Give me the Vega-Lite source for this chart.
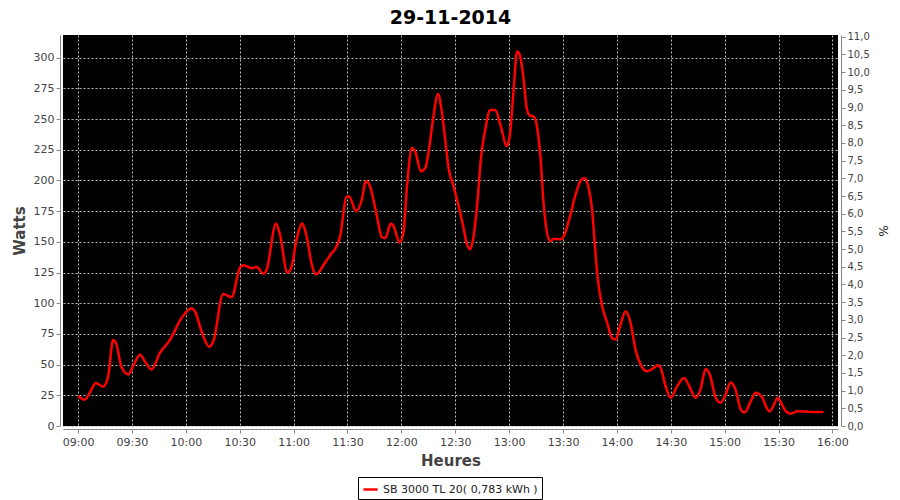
{
  "$schema": "https://vega.github.io/schema/vega-lite/v6.json",
  "autosize": "none",
  "width": 775,
  "height": 391,
  "padding": {"left": 63, "top": 35, "right": 62, "bottom": 74},
  "background": "white",
  "config": {
    "locale": {"number": {"decimal": ",", "thousands": " ", "grouping": [3], "currency": ["", " €"]}},
    "view": {"fill": "black", "stroke": null},
    "axis": {
      "labelFont": "DejaVu Sans",
      "titleFont": "DejaVu Sans",
      "labelColor": "#444444",
      "titleColor": "#444444",
      "domainColor": "#888888",
      "tickColor": "#888888",
      "tickSize": 4,
      "gridColor": "#bbbbbb",
      "gridDash": [2, 2],
      "gridWidth": 1,
      "gridOpacity": 1
    }
  },
  "title": {"text": "29-11-2014", "fontSize": 19, "fontWeight": "bold", "font": "DejaVu Sans", "color": "black", "anchor": "middle", "frame": "group", "offset": 4},
  "data": {"values": [
    {"time": "2014-11-29T09:00:00", "watts": 24.5},
    {"time": "2014-11-29T09:03:42", "watts": 21.5},
    {"time": "2014-11-29T09:06:30", "watts": 27},
    {"time": "2014-11-29T09:09:54", "watts": 35},
    {"time": "2014-11-29T09:13:54", "watts": 32},
    {"time": "2014-11-29T09:16:42", "watts": 40},
    {"time": "2014-11-29T09:19:30", "watts": 70},
    {"time": "2014-11-29T09:21:00", "watts": 68},
    {"time": "2014-11-29T09:24:12", "watts": 48},
    {"time": "2014-11-29T09:27:54", "watts": 42},
    {"time": "2014-11-29T09:31:00", "watts": 50},
    {"time": "2014-11-29T09:34:24", "watts": 58},
    {"time": "2014-11-29T09:37:30", "watts": 52},
    {"time": "2014-11-29T09:40:54", "watts": 46},
    {"time": "2014-11-29T09:45:30", "watts": 59.5},
    {"time": "2014-11-29T09:51:06", "watts": 70},
    {"time": "2014-11-29T09:57:36", "watts": 88},
    {"time": "2014-11-29T10:03:12", "watts": 96},
    {"time": "2014-11-29T10:05:00", "watts": 93.5},
    {"time": "2014-11-29T10:08:48", "watts": 77},
    {"time": "2014-11-29T10:13:00", "watts": 64.5},
    {"time": "2014-11-29T10:15:18", "watts": 69},
    {"time": "2014-11-29T10:20:48", "watts": 107.5},
    {"time": "2014-11-29T10:25:30", "watts": 105},
    {"time": "2014-11-29T10:30:06", "watts": 129},
    {"time": "2014-11-29T10:32:00", "watts": 131},
    {"time": "2014-11-29T10:36:42", "watts": 128.5},
    {"time": "2014-11-29T10:39:30", "watts": 129.5},
    {"time": "2014-11-29T10:43:06", "watts": 124},
    {"time": "2014-11-29T10:45:00", "watts": 127.5},
    {"time": "2014-11-29T10:50:12", "watts": 165},
    {"time": "2014-11-29T10:52:24", "watts": 156},
    {"time": "2014-11-29T10:56:30", "watts": 125},
    {"time": "2014-11-29T10:58:24", "watts": 127.5},
    {"time": "2014-11-29T11:01:48", "watts": 153},
    {"time": "2014-11-29T11:04:36", "watts": 165},
    {"time": "2014-11-29T11:07:18", "watts": 154},
    {"time": "2014-11-29T11:10:06", "watts": 131.5},
    {"time": "2014-11-29T11:12:30", "watts": 123.5},
    {"time": "2014-11-29T11:17:30", "watts": 133},
    {"time": "2014-11-29T11:21:18", "watts": 141},
    {"time": "2014-11-29T11:23:06", "watts": 144},
    {"time": "2014-11-29T11:25:54", "watts": 154.5},
    {"time": "2014-11-29T11:29:36", "watts": 187},
    {"time": "2014-11-29T11:30:54", "watts": 187},
    {"time": "2014-11-29T11:34:48", "watts": 175},
    {"time": "2014-11-29T11:38:00", "watts": 184.5},
    {"time": "2014-11-29T11:40:12", "watts": 199.5},
    {"time": "2014-11-29T11:42:36", "watts": 195},
    {"time": "2014-11-29T11:46:00", "watts": 173.5},
    {"time": "2014-11-29T11:49:06", "watts": 154},
    {"time": "2014-11-29T11:51:00", "watts": 153},
    {"time": "2014-11-29T11:54:12", "watts": 165},
    {"time": "2014-11-29T11:55:36", "watts": 163},
    {"time": "2014-11-29T11:59:00", "watts": 149.5},
    {"time": "2014-11-29T12:01:12", "watts": 158},
    {"time": "2014-11-29T12:03:06", "watts": 195},
    {"time": "2014-11-29T12:05:54", "watts": 226.5},
    {"time": "2014-11-29T12:07:42", "watts": 223.5},
    {"time": "2014-11-29T12:10:54", "watts": 207.5},
    {"time": "2014-11-29T12:13:18", "watts": 210},
    {"time": "2014-11-29T12:15:06", "watts": 222.5},
    {"time": "2014-11-29T12:17:36", "watts": 249.5},
    {"time": "2014-11-29T12:20:24", "watts": 270.5},
    {"time": "2014-11-29T12:22:36", "watts": 255},
    {"time": "2014-11-29T12:24:24", "watts": 233.5},
    {"time": "2014-11-29T12:26:18", "watts": 210},
    {"time": "2014-11-29T12:29:06", "watts": 195},
    {"time": "2014-11-29T12:31:54", "watts": 179},
    {"time": "2014-11-29T12:34:36", "watts": 161.5},
    {"time": "2014-11-29T12:36:30", "watts": 148},
    {"time": "2014-11-29T12:38:24", "watts": 144},
    {"time": "2014-11-29T12:39:54", "watts": 152},
    {"time": "2014-11-29T12:42:06", "watts": 179},
    {"time": "2014-11-29T12:44:24", "watts": 219.5},
    {"time": "2014-11-29T12:46:42", "watts": 241.5},
    {"time": "2014-11-29T12:49:30", "watts": 257.5},
    {"time": "2014-11-29T12:52:18", "watts": 257.5},
    {"time": "2014-11-29T12:55:06", "watts": 245.5},
    {"time": "2014-11-29T12:58:48", "watts": 228},
    {"time": "2014-11-29T13:00:18", "watts": 236},
    {"time": "2014-11-29T13:02:30", "watts": 274},
    {"time": "2014-11-29T13:04:24", "watts": 305},
    {"time": "2014-11-29T13:05:54", "watts": 302.5},
    {"time": "2014-11-29T13:08:06", "watts": 282},
    {"time": "2014-11-29T13:09:36", "watts": 260.5},
    {"time": "2014-11-29T13:11:24", "watts": 253},
    {"time": "2014-11-29T13:13:42", "watts": 252},
    {"time": "2014-11-29T13:15:36", "watts": 243},
    {"time": "2014-11-29T13:17:24", "watts": 219.5},
    {"time": "2014-11-29T13:19:18", "watts": 179},
    {"time": "2014-11-29T13:21:06", "watts": 157.5},
    {"time": "2014-11-29T13:23:00", "watts": 150.5},
    {"time": "2014-11-29T13:24:48", "watts": 152.5},
    {"time": "2014-11-29T13:28:36", "watts": 152},
    {"time": "2014-11-29T13:30:24", "watts": 154.5},
    {"time": "2014-11-29T13:34:06", "watts": 172},
    {"time": "2014-11-29T13:36:54", "watts": 188},
    {"time": "2014-11-29T13:39:42", "watts": 199.5},
    {"time": "2014-11-29T13:41:54", "watts": 202},
    {"time": "2014-11-29T13:44:18", "watts": 193.5},
    {"time": "2014-11-29T13:46:12", "watts": 176},
    {"time": "2014-11-29T13:47:30", "watts": 152},
    {"time": "2014-11-29T13:49:00", "watts": 124.5},
    {"time": "2014-11-29T13:51:48", "watts": 97.5},
    {"time": "2014-11-29T13:54:36", "watts": 84},
    {"time": "2014-11-29T13:57:24", "watts": 71.5},
    {"time": "2014-11-29T13:59:12", "watts": 70.5},
    {"time": "2014-11-29T14:02:00", "watts": 82.5},
    {"time": "2014-11-29T14:04:48", "watts": 93.5},
    {"time": "2014-11-29T14:07:36", "watts": 84},
    {"time": "2014-11-29T14:10:24", "watts": 62},
    {"time": "2014-11-29T14:13:12", "watts": 50},
    {"time": "2014-11-29T14:16:54", "watts": 44.5},
    {"time": "2014-11-29T14:19:42", "watts": 46.5},
    {"time": "2014-11-29T14:22:48", "watts": 49.5},
    {"time": "2014-11-29T14:24:18", "watts": 47.5},
    {"time": "2014-11-29T14:27:06", "watts": 32.5},
    {"time": "2014-11-29T14:29:54", "watts": 23},
    {"time": "2014-11-29T14:33:36", "watts": 32.5},
    {"time": "2014-11-29T14:37:18", "watts": 39},
    {"time": "2014-11-29T14:40:06", "watts": 33},
    {"time": "2014-11-29T14:43:48", "watts": 23},
    {"time": "2014-11-29T14:46:36", "watts": 30},
    {"time": "2014-11-29T14:49:24", "watts": 46.5},
    {"time": "2014-11-29T14:51:48", "watts": 41.5},
    {"time": "2014-11-29T14:55:00", "watts": 23},
    {"time": "2014-11-29T14:57:42", "watts": 19},
    {"time": "2014-11-29T15:00:30", "watts": 25.5},
    {"time": "2014-11-29T15:03:18", "watts": 35.5},
    {"time": "2014-11-29T15:06:06", "watts": 29.5},
    {"time": "2014-11-29T15:08:54", "watts": 13.5},
    {"time": "2014-11-29T15:11:06", "watts": 11},
    {"time": "2014-11-29T15:14:30", "watts": 20},
    {"time": "2014-11-29T15:17:12", "watts": 27},
    {"time": "2014-11-29T15:21:00", "watts": 23},
    {"time": "2014-11-29T15:23:48", "watts": 13.5},
    {"time": "2014-11-29T15:25:12", "watts": 12},
    {"time": "2014-11-29T15:27:30", "watts": 17.5},
    {"time": "2014-11-29T15:29:24", "watts": 23},
    {"time": "2014-11-29T15:31:36", "watts": 18.5},
    {"time": "2014-11-29T15:34:00", "watts": 12},
    {"time": "2014-11-29T15:36:48", "watts": 10},
    {"time": "2014-11-29T15:40:30", "watts": 12},
    {"time": "2014-11-29T15:47:54", "watts": 11.5},
    {"time": "2014-11-29T15:55:00", "watts": 11.5}
  ]},
  "layer": [
    {
      "mark": {"type": "line", "interpolate": "monotone", "strokeWidth": 2.5, "clip": true},
      "encoding": {
        "x": {
          "field": "time", "type": "temporal",
          "scale": {"domain": ["2014-11-29T08:51:36", "2014-11-29T16:03:06"]},
          "axis": {"title": "Heures", "format": "%H:%M", "tickCount": 15, "labelFontSize": 11, "titleFontSize": 15, "titleFontWeight": "bold", "titlePadding": 6, "offset": 3, "labelPadding": 3, "grid": true}
        },
        "y": {
          "field": "watts", "type": "quantitative",
          "scale": {"domain": [0, 318.5], "nice": false},
          "axis": {"title": "Watts", "orient": "left", "values": [0, 25, 50, 75, 100, 125, 150, 175, 200, 225, 250, 275, 300], "labelFontSize": 11, "titleFontSize": 15, "titleFontWeight": "bold", "titlePadding": 6, "offset": 3, "labelPadding": 2, "grid": true}
        },
        "color": {
          "datum": "SB 3000 TL 20( 0,783 kWh )",
          "type": "nominal",
          "scale": {"range": ["#ff0000"]},
          "legend": {"title": null, "orient": "none", "legendX": 295, "legendY": 442, "strokeColor": "black", "fillColor": "white", "padding": 4, "symbolType": "stroke", "symbolStrokeWidth": 2.5, "symbolSize": 200, "labelFontSize": 11, "labelColor": "#222222", "labelFont": "DejaVu Sans"}
        }
      }
    },
    {
      "mark": {"type": "point", "opacity": 0, "clip": true},
      "encoding": {
        "x": {"field": "time", "type": "temporal"},
        "y": {
          "field": "watts", "type": "quantitative",
          "scale": {"domain": [0, 11.05], "nice": false},
          "axis": {"title": "%", "orient": "right", "grid": false, "tickCount": 22, "format": ".1f", "labelFontSize": 10, "titleFontSize": 12, "titleFontWeight": "normal", "titleColor": "#222222", "offset": 3, "labelPadding": 2, "titlePadding": 6}
        }
      }
    }
  ],
  "resolve": {"scale": {"y": "independent"}}
}
